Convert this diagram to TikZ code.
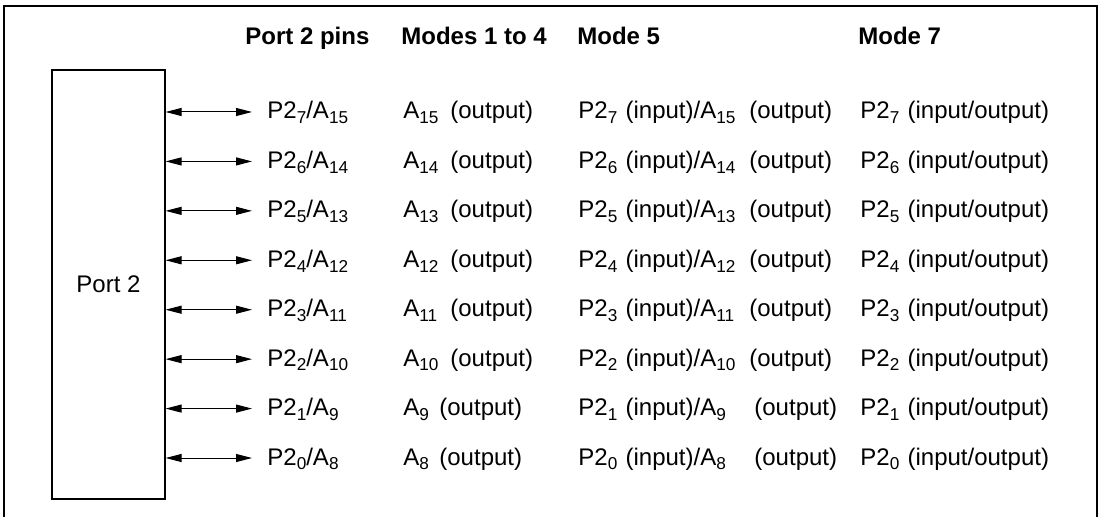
\documentclass[tikz,border=0pt]{standalone}
\usepackage{fontspec}
\setmainfont{Liberation Sans}
\usetikzlibrary{arrows.meta, positioning}

\tikzset{
  head/.style={font=\fontsize{12}{14}\selectfont\bfseries, inner sep=0pt, anchor=base west},
  cell/.style={font=\fontsize{12}{14}\selectfont, inner sep=0pt, anchor=base west},
  link/.style={{Triangle[length=8pt,width=4pt]}-{Triangle[length=8pt,width=4pt]}, line width=0.5pt},
}
\newcommand{\sub}[1]{\raisebox{-2.4pt}{\fontsize{8.6}{10}\selectfont #1}}

\begin{document}
\begin{tikzpicture}[x=0.5pt, y=-0.5pt]
        \useasboundingbox (0,0) rectangle (1101,517);
        % Outer frame, open at the bottom
        \draw [line width=1pt] (4,517) -- (4,6) -- (1097,6) -- (1097,517);
        % Column headings
        \node [head] (hpins) at (245,45) {Port 2 pins};
        \node [head] (hab) at (401,45) {Modes 1 to 4};
        \node [head] (hfive) at (577,45) {Mode 5};
        \node [head] (hseven) at (858,45) {Mode 7};
        % Port 2 block
        \node [draw, line width=0.6pt, minimum width=56.5pt, minimum height=214.5pt, inner sep=0pt,
               font=\fontsize{12}{14}\selectfont] (port) at (108.5,284.5) {Port 2};
        % One row per pin, P2_7 at the top
        \foreach \b [count=\r from 0] in {7,6,...,0}{
            \pgfmathsetmacro{\y}{112+49.43*\r}
            \pgfmathtruncatemacro{\a}{\b+8}
            \ifnum\b<2 \def\wab{18pt}\def\wfive{88pt}\else\def\wab{23.5pt}\def\wfive{85.5pt}\fi
            \node [cell] (pin\b) at (267,\y+7) {P2\sub{\b}/A\sub{\a}};
            \node [cell] (mab\b) at (403,\y+7) {\makebox[\wab][l]{A\sub{\a}}(output)};
            \node [cell] (mfive\b) at (578,\y+7) {\makebox[\wfive][l]{P2\sub{\b}\hspace{0.8pt} (input)/A\sub{\a}}(output)};
            \node [cell] (mseven\b) at (860,\y+7) {P2\sub{\b}\hspace{0.8pt} (input/output)};
            \coordinate (tip\b) at (252,\y);
            \draw [link] (port.east |- tip\b) -- (tip\b);
        }
    \end{tikzpicture}
\end{document}
